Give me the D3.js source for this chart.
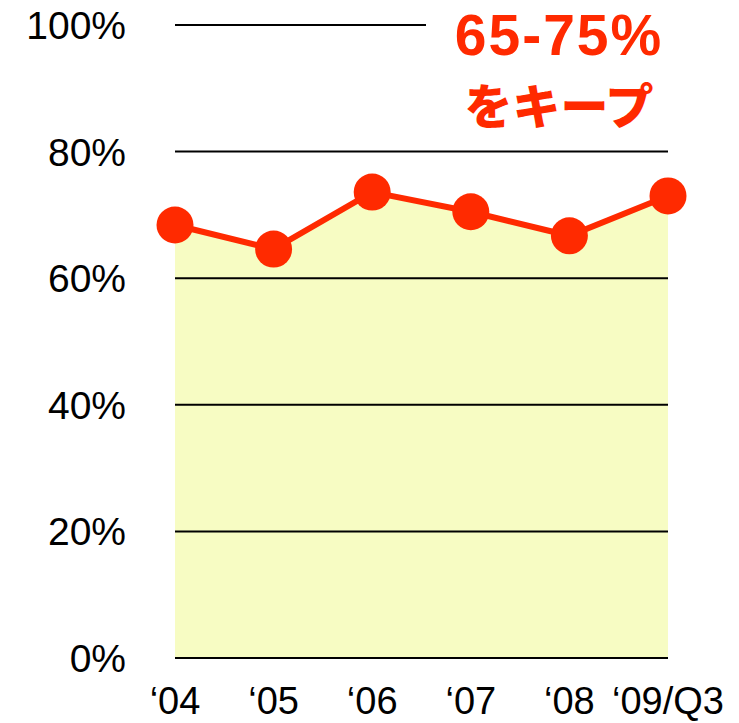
<!DOCTYPE html>
<html>
<head>
<meta charset="utf-8">
<script src="https://cdn.jsdelivr.net/npm/d3@7"></script>
<style>
  html, body { margin: 0; padding: 0; background: #fff; }
</style>
</head>
<body>
<div id="content"></div>
<script>
const categories = ['‘04', '‘05', '‘06', '‘07', '‘08', '‘09/Q3'];
const ratioValues = [68.4, 64.6, 73.6, 70.5, 66.7, 73.0];
const yTicks = [0, 20, 40, 60, 80, 100];
const noteLines = ['65-75%', 'をキープ'];

const width = 739, height = 723;
const red = '#ff2a00';
const fillColor = '#f7fcc3';

const svg = d3.select('#content').append('svg')
  .attr('width', width).attr('height', height)
  .style('display', 'block');

const x = d3.scalePoint().domain(categories).range([175, 668]);
const y = d3.scaleLinear().domain([0, 100]).range([658, 25]);

const data = categories.map((c, i) => ({ c, v: ratioValues[i] }));

// area under the line
svg.append('path')
  .datum(data)
  .attr('fill', fillColor)
  .attr('d', d3.area().x(d => x(d.c)).y0(y(0)).y1(d => y(d.v)));

// grid lines
svg.append('g').selectAll('line')
  .data(yTicks)
  .join('line')
  .attr('x1', x.range()[0]).attr('x2', x.range()[1])
  .attr('y1', d => y(d)).attr('y2', d => y(d))
  .attr('stroke', '#000').attr('stroke-width', 2);

// y labels
svg.append('g').selectAll('text')
  .data(yTicks)
  .join('text')
  .attr('x', 126).attr('y', d => y(d))
  .attr('dy', '0.36em')
  .attr('text-anchor', 'end')
  .style('font-family', '"Liberation Sans", Arial, sans-serif')
  .style('font-size', '39px')
  .attr('fill', '#000')
  .text(d => d + '%');

// x labels
svg.append('g').selectAll('text')
  .data(categories)
  .join('text')
  .attr('x', d => x(d)).attr('y', 714)
  .attr('text-anchor', 'middle')
  .style('font-family', '"Liberation Sans", Arial, sans-serif')
  .style('font-size', '38px')
  .attr('fill', '#000')
  .text(d => d);

// line + markers
svg.append('path')
  .datum(data)
  .attr('fill', 'none')
  .attr('stroke', red).attr('stroke-width', 6)
  .attr('d', d3.line().x(d => x(d.c)).y(d => y(d.v)));

svg.append('g').selectAll('circle')
  .data(data)
  .join('circle')
  .attr('cx', d => x(d.c)).attr('cy', d => y(d.v))
  .attr('r', 18.5)
  .attr('fill', red);

// annotation (white box hides the top grid line)
svg.append('rect')
  .attr('x', 426).attr('y', 0).attr('width', 260).attr('height', 140)
  .attr('fill', '#fff');

svg.append('text')
  .attr('x', 559).attr('y', 55)
  .attr('text-anchor', 'middle')
  .style('font-family', '"Liberation Sans", Arial, sans-serif')
  .style('font-weight', 'bold')
  .style('font-size', '57px')
  .style('letter-spacing', '2px')
  .attr('fill', red)
  .text(noteLines[0]);

svg.append('text')
  .attr('x', 559).attr('y', 124)
  .attr('text-anchor', 'middle')
  .style('font-family', '"Noto Sans CJK JP", sans-serif')
  .style('font-weight', '900')
  .style('font-size', '48px')
  .attr('fill', red)
  .text(noteLines[1]);
</script>
</body>
</html>
